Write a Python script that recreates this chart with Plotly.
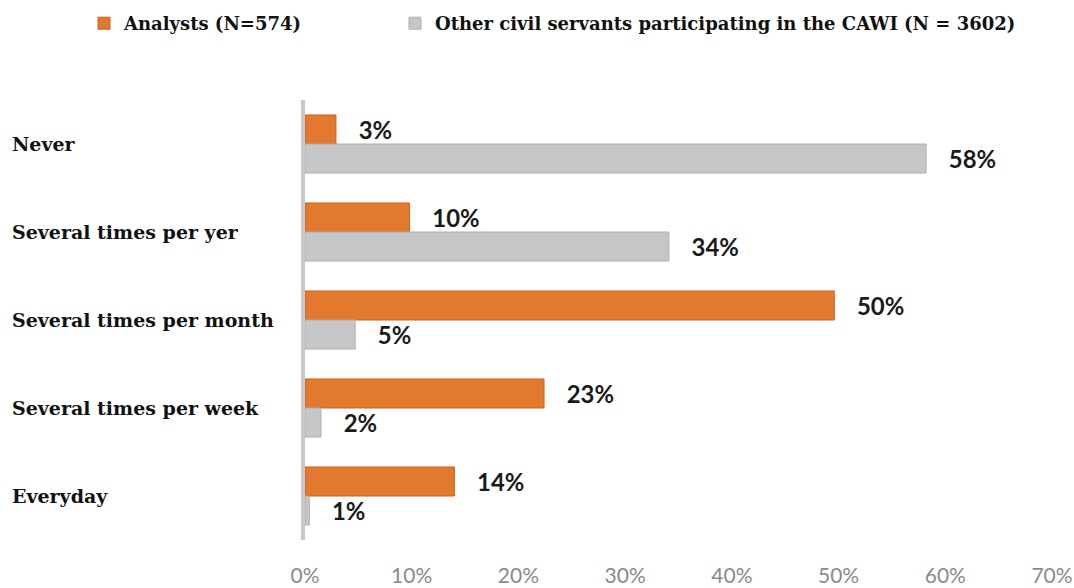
import plotly.graph_objects as go

categories = ["Never", "Several times per yer", "Several times per month",
              "Several times per week", "Everyday"]
analysts = [2.9, 9.8, 49.6, 22.4, 14.0]
analysts_labels = ["3%", "10%", "50%", "23%", "14%"]
others = [58.2, 34.1, 4.7, 1.5, 0.4]
others_labels = ["58%", "34%", "5%", "2%", "1%"]
series_names = ["Analysts (N=574)",
                "Other civil servants participating in the CAWI (N = 3602)"]
tick_vals = [0, 10, 20, 30, 40, 50, 60, 70]
tick_text = ["0%", "10%", "20%", "30%", "40%", "50%", "60%", "70%"]

ORANGE = "#E3782F"
GRAY = "#C6C6C6"
label_font = dict(family="Lato", size=28, color="#1a1a1a", weight="bold")
pad = " \u2007"

fig = go.Figure()
fig.add_trace(go.Bar(
    y=categories, x=analysts, orientation="h", name=series_names[0],
    marker=dict(color=ORANGE, line=dict(color="#CC6320", width=1)),
    text=[pad + t for t in analysts_labels], textposition="outside",
    textfont=label_font, cliponaxis=False, legend="legend",
))
fig.add_trace(go.Bar(
    y=categories, x=others, orientation="h", name=series_names[1],
    marker=dict(color=GRAY, line=dict(color="#B0B0B0", width=1)),
    text=[pad + t for t in others_labels], textposition="outside",
    textfont=label_font, cliponaxis=False, legend="legend2",
))

PLOT_L, PLOT_R = 305, 1052
for c in categories:
    fig.add_annotation(
        x=-(PLOT_L - 10) / (PLOT_R - PLOT_L), xref="paper", xanchor="left",
        y=c, yref="y", text=c, showarrow=False,
        font=dict(family="DejaVu Serif", size=19, color="#111", weight="bold"),
    )

legend_font = dict(family="DejaVu Serif", size=18, color="#111", weight="bold")
fig.update_layout(
    width=1074, height=588,
    margin=dict(l=PLOT_L, r=1074 - PLOT_R, t=100, b=48),
    paper_bgcolor="white", plot_bgcolor="white",
    barmode="group", bargap=0.34, bargroupgap=0,
    showlegend=True,
    legend=dict(
        orientation="h", xref="container", yref="container",
        x=84 / 1074, y=1 - 5 / 588, xanchor="left", yanchor="top",
        font=legend_font, bgcolor="rgba(0,0,0,0)",
    ),
    legend2=dict(
        orientation="h", xref="container", yref="container",
        x=395 / 1074, y=1 - 5 / 588, xanchor="left", yanchor="top",
        font=legend_font, bgcolor="rgba(0,0,0,0)",
    ),
    xaxis=dict(
        range=[0, 70], tickvals=tick_vals, ticktext=tick_text,
        showgrid=False, zeroline=False, showline=False, automargin=False,
        tickfont=dict(family="Lato", size=21, color="#8a8a8a"),
        ticklabelstandoff=21,
    ),
    yaxis=dict(
        autorange="reversed", showticklabels=False, showgrid=False,
        automargin=False,
        zeroline=False, showline=True, linecolor="#C8C8C8", linewidth=4,
    ),
)

fig.write_html("out.html")
